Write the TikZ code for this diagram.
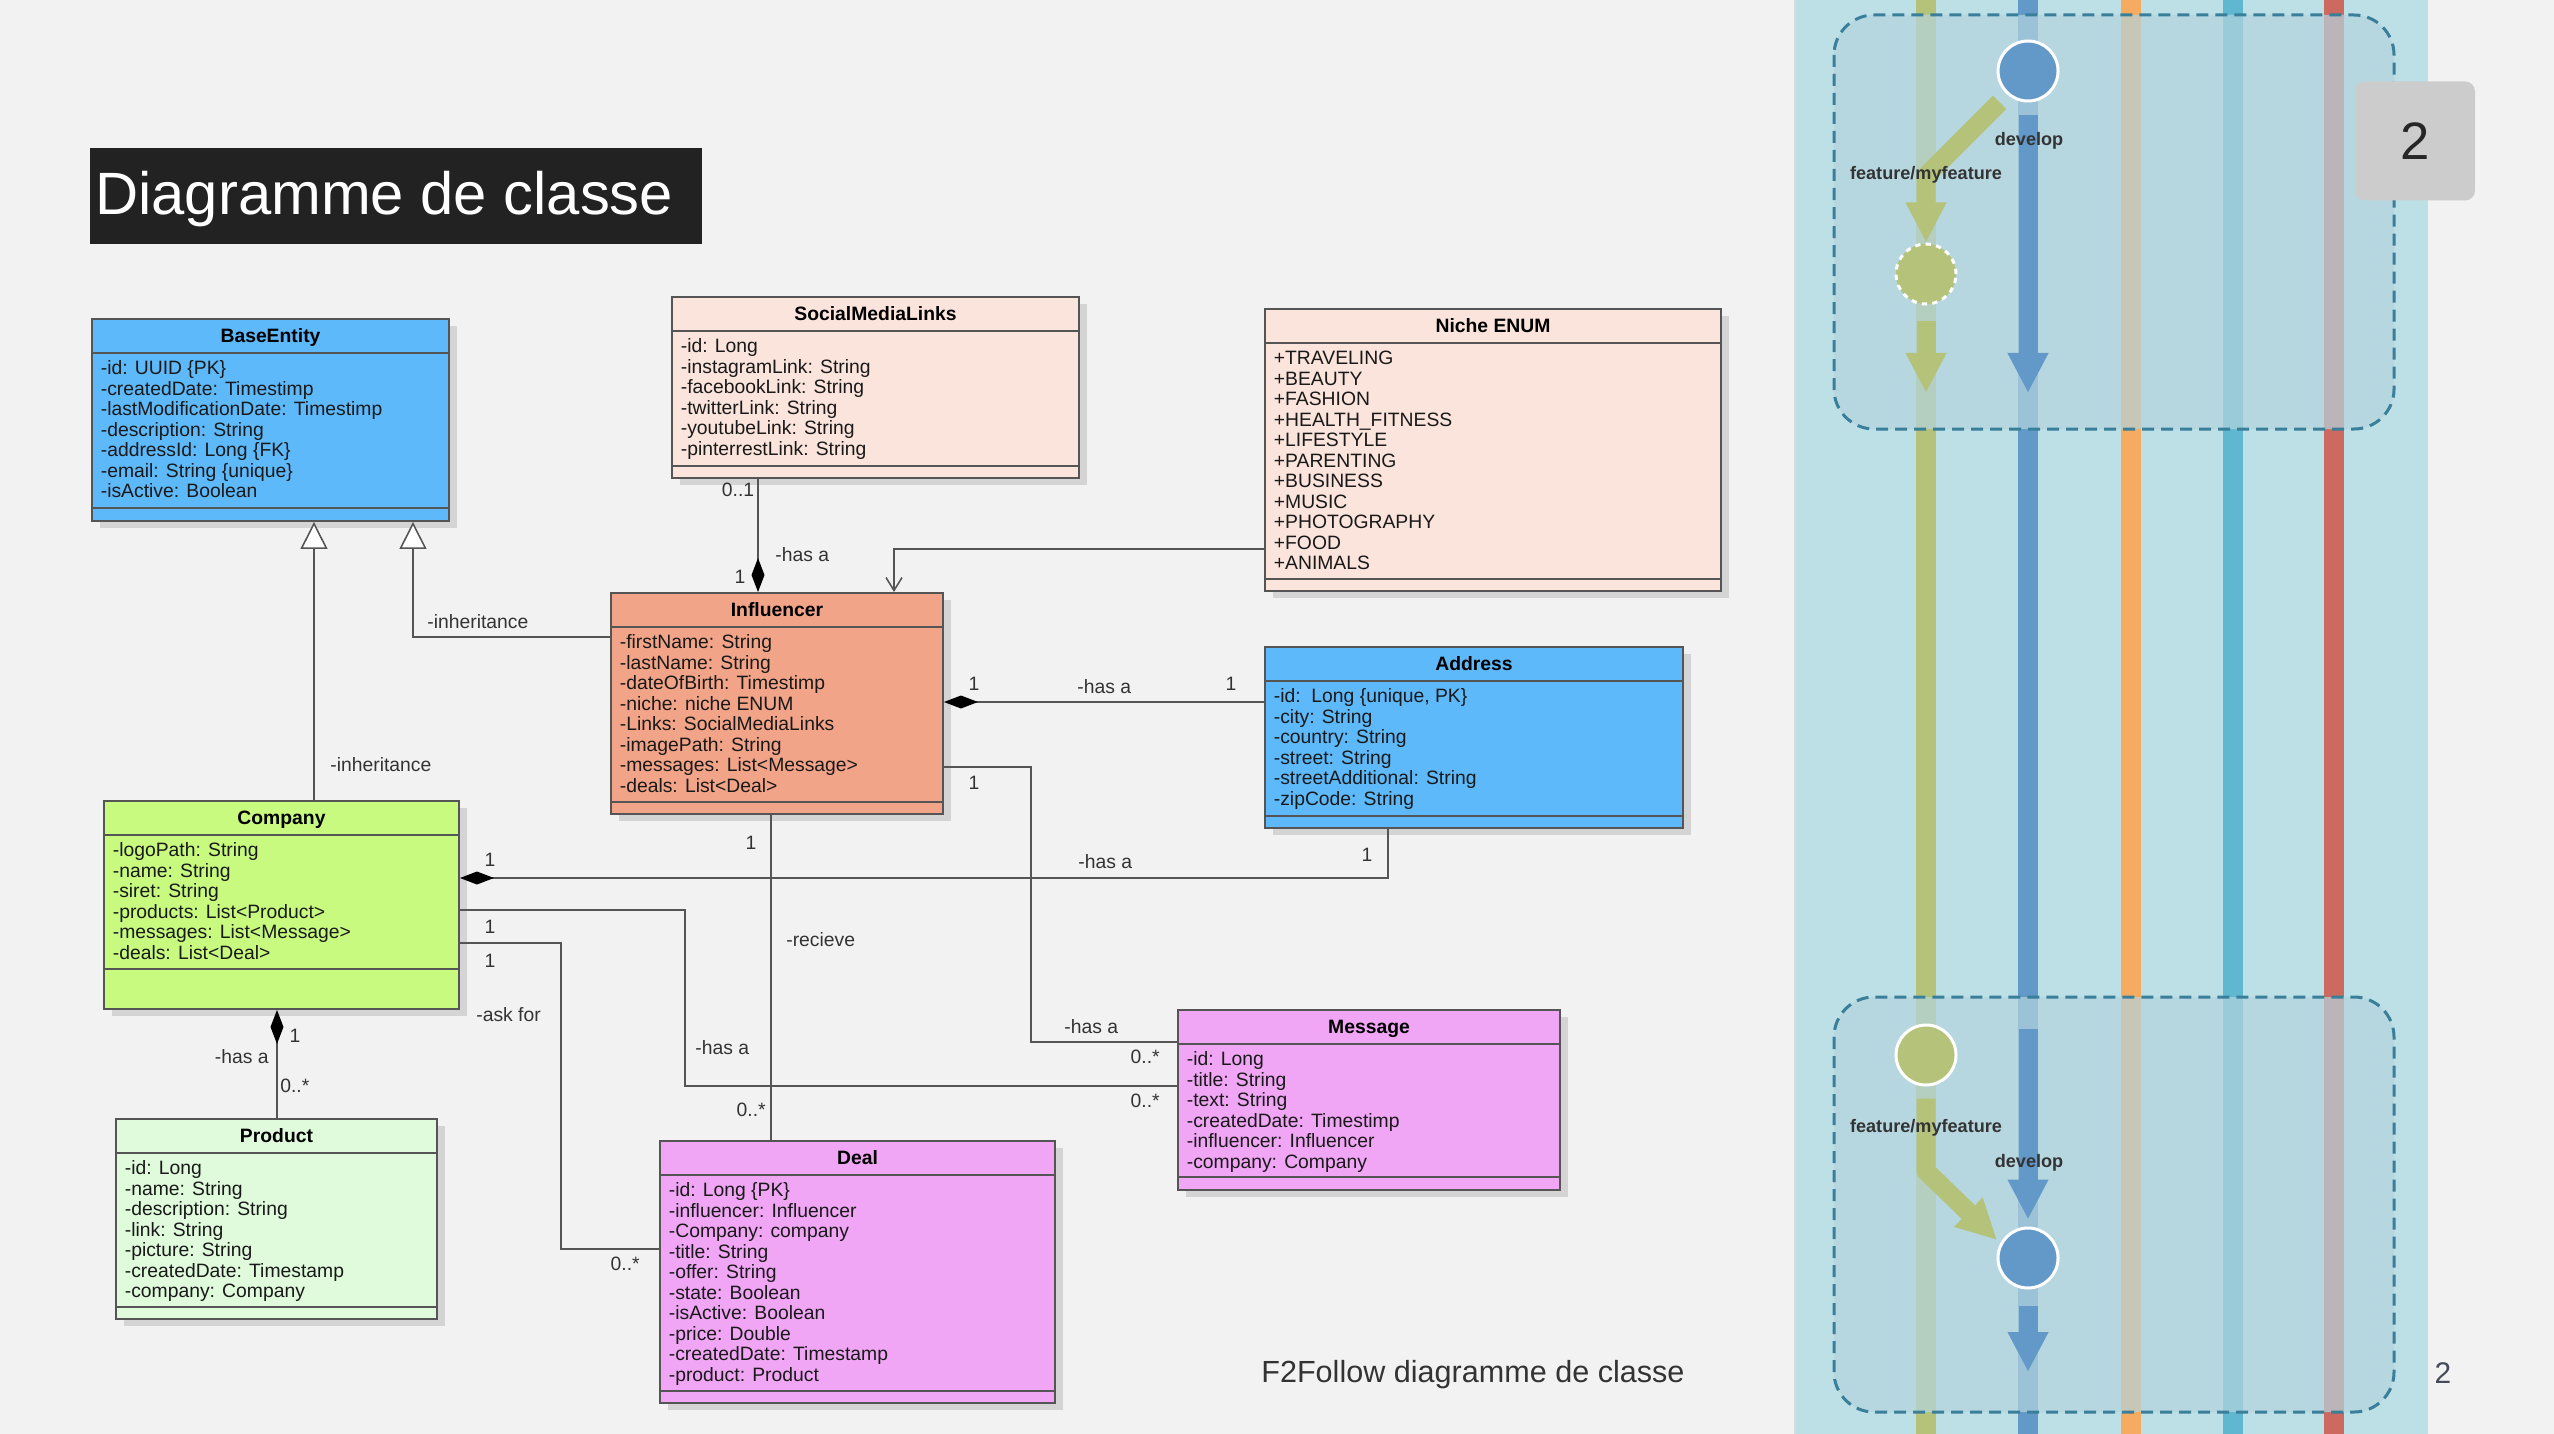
\documentclass[tikz,border=0pt]{standalone}
\usepackage{fontspec}
\setmainfont{Liberation Sans}
\usetikzlibrary{arrows.meta,shadows}

\definecolor{pagebg}{RGB}{242,242,242}
\definecolor{titlebg}{RGB}{34,34,34}
\definecolor{framegray}{RGB}{85,85,85}
\definecolor{entityblue}{RGB}{93,185,250}
\definecolor{peach}{RGB}{250,228,220}
\definecolor{salmon}{RGB}{242,164,136}
\definecolor{companygreen}{RGB}{200,250,128}
\definecolor{mint}{RGB}{224,250,220}
\definecolor{dealpink}{RGB}{240,166,245}
\definecolor{panelblue}{RGB}{188,224,230}
\definecolor{featgreen}{RGB}{181,194,122}
\definecolor{devblue}{RGB}{99,153,200}
\definecolor{relorange}{RGB}{245,171,96}
\definecolor{hotcyan}{RGB}{95,184,208}
\definecolor{mastred}{RGB}{204,106,96}
\definecolor{boxteal}{RGB}{58,127,154}
\definecolor{veil}{RGB}{180,212,222}
\definecolor{numgray}{RGB}{204,204,204}

\tikzset{
  classbox/.style={rectangle, draw=framegray, line width=1.1pt, inner sep=0pt,
    drop shadow={shadow xshift=1.6mm, shadow yshift=-1.4mm, opacity=.12, fill=black}},
  sepline/.style={draw=framegray, line width=1.1pt},
  classname/.style={font=\bfseries\fontsize{11}{13}\selectfont, inner sep=0pt, text height=7.9pt, text depth=0pt},
  attr/.style={font=\fontsize{11}{13}\selectfont, anchor=west, inner sep=0pt, text height=7.9pt, text depth=0pt, text=black!90},
  lbl/.style={font=\fontsize{11}{13}\selectfont, inner sep=0pt, text height=7.9pt, text depth=0pt, text=black!80},
  assoc/.style={draw=framegray, line width=0.9pt},
  inherit/.style={assoc, -{Triangle[open, fill=white, length=5.4mm, width=5.4mm]}},
  compose/.style={assoc, -{Diamond[color=black, fill=black, length=6.8mm, width=2.6mm]}},
  navig/.style={assoc, -{Straight Barb[length=2.6mm, width=3.2mm]}},
  gitframe/.style={draw=boxteal, line width=0.6mm, dash pattern=on 2.4mm off 1.4mm, rounded corners=8mm, fill=veil, fill opacity=.7},
  gitflow/.style={line width=3.8mm, line join=round, -{Triangle[length=8mm, width=7.6mm]}},
  commit/.style={circle, minimum size=12mm, inner sep=0pt, draw=white, line width=0.6mm},
  gitlbl/.style={font=\bfseries\fontsize{10.3}{12}\selectfont, inner sep=0pt, text=black!80},
}

% name, x1, y1, x2, y2, lower separator, fill, title, attributes
\newcommand{\umlclass}[9]{%
  \node[classbox, fill=#7, minimum width={(#4-#2)*0.2mm}, minimum height={(#5-#3)*0.2mm}] (#1) at ({(#2+#4)/2},{(#3+#5)/2}) {};
  \draw[sepline] ({#2},{#3+34}) -- ({#4},{#3+34});
  \draw[sepline] ({#2},{#6}) -- ({#4},{#6});
  \node[classname] (#1-name) at ({(#2+#4)/2},{#3+17}) {#8};
  \foreach \entry [count=\idx from 0] in {#9}
    \node[attr] (#1-attr\idx) at ({#2+8.5},{#3+49+20.5*\idx}) {\entry};
}

\begin{document}
\begin{tikzpicture}[x=0.2mm, y=-0.2mm]
    \useasboundingbox (0,0) rectangle (2554,1434);
    \fill[pagebg] (0,0) rectangle (2554,1434);

    % Title
    \node[fill=titlebg, minimum width={612*0.2mm}, minimum height={96*0.2mm}, inner sep=0pt] (titlebox) at (396,196) {};
    \node[anchor=west, inner sep=0pt, text=white, font=\fontsize{34}{40}\selectfont, text height=24.4pt, text depth=0pt] (title) at (95,193) {Diagramme de classe};

    % Classes
    \umlclass{base}{92}{319}{449}{521}{508}{entityblue}{BaseEntity}{
      -id: UUID \{PK\}, -createdDate: Timestimp, -lastModificationDate: Timestimp,
      -description: String, -addressId: Long \{FK\}, -email: String \{unique\}, -isActive: Boolean}
    \umlclass{social}{672}{297}{1079}{478}{466}{peach}{SocialMediaLinks}{
      -id: Long, -instagramLink: String, -facebookLink: String, -twitterLink: String,
      -youtubeLink: String, -pinterrestLink: String}
    \umlclass{niche}{1265}{309}{1721}{591}{579}{peach}{Niche ENUM}{
      +TRAVELING, +BEAUTY, +FASHION, +HEALTH\_FITNESS, +LIFESTYLE, +PARENTING,
      +BUSINESS, +MUSIC, +PHOTOGRAPHY, +FOOD, +ANIMALS}
    \umlclass{influencer}{611}{593}{943}{814}{802}{salmon}{Influencer}{
      -firstName: String, -lastName: String, -dateOfBirth: Timestimp, -niche: niche ENUM,
      -Links: SocialMediaLinks, -imagePath: String, -messages: List<Message>, -deals: List<Deal>}
    \umlclass{address}{1265}{647}{1683}{828}{816}{entityblue}{Address}{
      {-id:\ \ Long \{unique, PK\}}, -city: String, -country: String, -street: String,
      -streetAdditional: String, -zipCode: String}
    \umlclass{company}{104}{801}{459}{1009}{969}{companygreen}{Company}{
      -logoPath: String, -name: String, -siret: String, -products: List<Product>,
      -messages: List<Message>, -deals: List<Deal>}
    \umlclass{product}{116}{1119}{437}{1319}{1307}{mint}{Product}{
      -id: Long, -name: String, -description: String, -link: String, -picture: String,
      -createdDate: Timestamp, -company: Company}
    \umlclass{deal}{660}{1141}{1055}{1403}{1391}{dealpink}{Deal}{
      -id: Long \{PK\}, -influencer: Influencer, -Company: company, -title: String,
      -offer: String, -state: Boolean, -isActive: Boolean, -price: Double,
      -createdDate: Timestamp, -product: Product}
    \umlclass{message}{1178}{1010}{1560}{1190}{1177}{dealpink}{Message}{
      -id: Long, -title: String, -text: String, -createdDate: Timestimp,
      -influencer: Influencer, -company: Company}

    % Inheritance
    \draw[inherit] (company.north -| 314,0) -- (base.south -| 314,0);
    \draw[inherit] (influencer.west |- 0,637) -| (base.south -| 413,0);
    \node[lbl, anchor=west] (inhCompany) at (330,765) {-inheritance};
    \node[lbl, anchor=west] (inhInfluencer) at (427,622) {-inheritance};

    % Composition and navigation
    \draw[compose] (social.south -| 758,0) -- (influencer.north -| 758,0);
    \draw[navig] (niche.west |- 0,549) -| (influencer.north -| 894,0);
    \draw[compose] (address.west |- 0,702) -- (influencer.east |- 0,702);
    \draw[compose] (address.south -| 1388,0) |- (company.east |- 0,878);
    \draw[compose] (product.north -| 277,0) -- (company.south -| 277,0);

    % Associations
    \draw[assoc] (company.east |- 0,910) -| (685,1086) -- (message.west |- 0,1086);
    \draw[assoc] (company.east |- 0,943) -| (561,1249) -- (deal.west |- 0,1249);
    \draw[assoc] (influencer.south -| 771,0) -- (deal.north -| 771,0);
    \draw[assoc] (influencer.east |- 0,767) -| (1031,1042) -- (message.west |- 0,1042);

    % Multiplicities and roles
    \node[lbl] (mSocial) at (738,490) {0..1};
    \node[lbl] (mInfTop) at (740,577) {1};
    \node[lbl, anchor=west] (rSocial) at (775,555) {-has a};
    \node[lbl] (mInfAddr) at (974,684) {1};
    \node[lbl, anchor=west] (rAddrInf) at (1077,687) {-has a};
    \node[lbl] (mAddrInf) at (1231,684) {1};
    \node[lbl] (mInfMsg) at (974,783) {1};
    \node[lbl] (mCompAddr) at (490,860) {1};
    \node[lbl, anchor=west] (rCompAddr) at (1078,862) {-has a};
    \node[lbl] (mAddrComp) at (1367,855) {1};
    \node[lbl] (mInfDeal) at (751,843) {1};
    \node[lbl, anchor=west] (rInfDeal) at (786,940) {-recieve};
    \node[lbl, anchor=east] (mDealInf) at (766,1110) {0..*};
    \node[lbl] (mCompMsg) at (490,927) {1};
    \node[lbl] (mCompDeal) at (490,961) {1};
    \node[lbl, anchor=west] (rCompDeal) at (476,1015) {-ask for};
    \node[lbl, anchor=west] (rCompMsg) at (695,1048) {-has a};
    \node[lbl, anchor=west] (rInfMsg) at (1064,1027) {-has a};
    \node[lbl, anchor=east] (mMsgInf) at (1160,1057) {0..*};
    \node[lbl, anchor=east] (mMsgComp) at (1160,1101) {0..*};
    \node[lbl, anchor=east] (mDealComp) at (640,1264) {0..*};
    \node[lbl] (mCompProd) at (295,1036) {1};
    \node[lbl, anchor=east] (rCompProd) at (269,1057) {-has a};
    \node[lbl, anchor=west] (mProdComp) at (280,1086) {0..*};

    \node[anchor=west, inner sep=0pt, text=black!80, font=\fontsize{17.4}{20}\selectfont, text height=12.5pt, text depth=0pt] (caption) at (1261,1372) {F2Follow diagramme de classe};

    % Git flow panel
    \fill[panelblue] (1795,0) rectangle (2428,1434);
    \draw[black!15, line width=0.3mm] (1795,0) -- (1795,1434);
    \foreach \lx/\lc in {1926/featgreen, 2028/devblue, 2131/relorange, 2233/hotcyan, 2334/mastred}
      \draw[\lc, line width=4mm] (\lx,0) -- (\lx,1434);
    \draw[gitframe] (1834,15) rectangle (2394,429);
    \draw[gitframe] (1834,997) rectangle (2394,1412);

    \node[commit, fill=devblue] (devA) at (2028,71) {};
    \node[commit, fill=featgreen, dashed] (featA) at (1926,274) {};
    \node[commit, fill=featgreen] (featB) at (1926,1055) {};
    \node[commit, fill=devblue] (devB) at (2028,1258) {};

    \draw[gitflow, featgreen] ([shift={(-1.2mm,-1.8mm)}]devA.south west) -- (1926,176) -- (featA.north);
    \draw[gitflow, featgreen] ([yshift=-3mm]featA.south) -- (1926,393);
    \draw[gitflow, devblue] ([yshift=-2.6mm]devA.south) -- (2028,393);
    \draw[gitflow, featgreen] ([yshift=-2.4mm]featB.south) -- (1926,1171) -- (1997,1240);
    \draw[gitflow, devblue] (2028,1029) -- ([yshift=1.4mm]devB.north);
    \draw[gitflow, devblue] ([yshift=-3.2mm]devB.south) -- (2028,1372);

    \node[gitlbl] (devAlbl) at (2029,141) {develop};
    \node[gitlbl] (featAlbl) at (1926,175) {feature/myfeature};
    \node[gitlbl] (featBlbl) at (1926,1128) {feature/myfeature};
    \node[gitlbl] (devBlbl) at (2029,1163) {develop};

    % Slide numbers
    \node[fill=numgray, rounded corners=2mm, minimum width={120*0.2mm}, minimum height={119*0.2mm}, inner sep=0pt,
      font=\fontsize{30}{34}\selectfont, text=black!85] (slidenum) at (2415,141) {2};
    \node[inner sep=0pt, font=\fontsize{17}{20}\selectfont, text={rgb,255:red,70;green,75;blue,90}] (pagenum) at (2443,1373) {2};
\end{tikzpicture}
\end{document}
